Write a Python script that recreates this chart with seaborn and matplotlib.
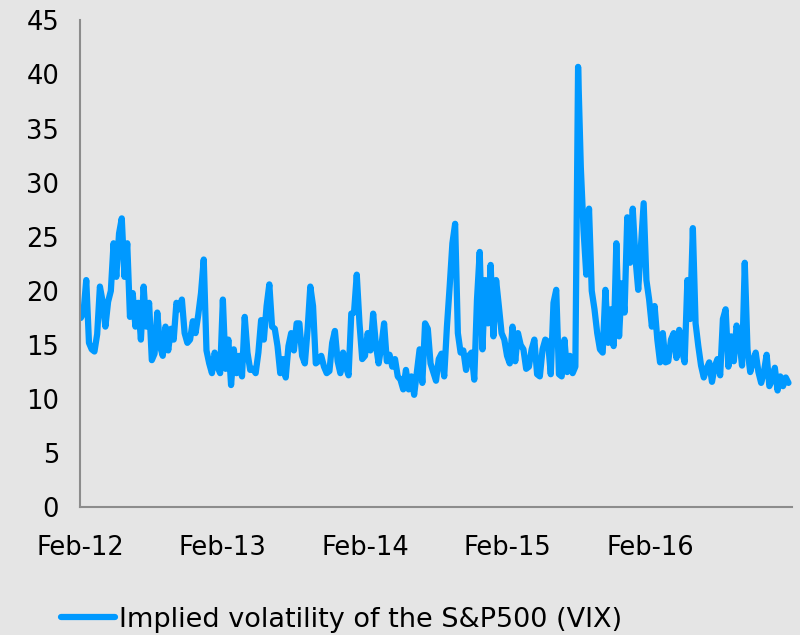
import pandas as pd
import numpy as np
import matplotlib
matplotlib.use("Agg")
import matplotlib.pyplot as plt
import matplotlib.dates as mdates
import seaborn as sns

# weekly VIX closes, one list per Feb-to-Feb year
vix_2012 = [17.5, 18.0, 21.0, 15.2, 14.6, 14.4, 16.0, 20.4, 19.0, 16.7, 19.0, 20.0, 24.4,
            21.3, 25.3, 26.7, 21.3, 24.4, 17.6, 19.8, 16.7, 18.9, 15.5, 20.4, 16.7, 18.9,
            13.6, 14.2, 18.0, 14.9, 14.0, 16.7, 14.5, 16.5, 15.5, 18.9, 18.3, 19.2, 16.1,
            15.2, 15.5, 17.2, 16.1, 17.8, 19.8, 22.9, 14.5, 13.3, 12.4, 14.3, 13.0, 12.4]
vix_2013 = [19.2, 12.8, 15.5, 11.3, 14.6, 12.4, 14.0, 12.1, 17.6, 14.3, 12.7, 12.8, 12.4,
            14.3, 17.3, 15.5, 18.6, 20.6, 16.7, 16.5, 14.9, 12.4, 13.7, 12.0, 14.9,
            16.1, 14.5, 17.0, 17.0, 14.0, 13.3, 16.4, 20.4, 18.6, 13.3, 13.5, 14.0, 13.0,
            12.4, 12.6, 15.2, 16.3, 13.5, 12.4, 14.3, 13.0, 12.2, 17.9, 18.0, 21.5, 17.0, 13.7]
vix_2014 = [14.0, 16.1, 14.5, 17.9, 15.0, 13.3, 14.9, 17.0, 13.5, 14.1, 13.0,
            13.7, 12.1, 11.8, 10.9, 12.7, 10.9, 12.1, 10.4, 12.5, 14.6, 11.5, 17.0, 16.5,
            13.3, 12.5, 11.7, 13.7, 14.2, 12.1, 16.7, 20.4, 24.4, 26.2, 16.1, 14.3, 14.5,
            12.7, 14.0, 14.3, 11.8, 19.2, 23.6, 14.6, 21.0, 17.0, 22.4, 15.8, 21.0,
            18.6, 16.1, 15.5]
vix_2015 = [14.0, 13.3, 16.7, 13.5, 16.1, 15.0, 14.6, 12.8, 13.0, 14.6, 15.5, 12.3, 12.1,
            14.6, 15.5, 15.3, 12.3, 18.9, 20.1, 12.3, 12.1, 15.5, 12.5, 14.0, 12.4, 13.0,
            40.7, 31.4, 25.6, 21.5, 27.6, 20.0, 18.3, 16.1, 14.6,
            14.3, 20.1, 15.2, 18.3, 14.9, 24.4, 15.8, 20.7, 18.0, 26.8, 22.6, 27.6, 23.0,
            20.1, 24.1, 28.1, 21.0]
vix_2016 = [19.2, 16.7, 18.6, 15.5, 13.4, 16.1, 13.4, 13.5, 15.5, 16.1, 13.8, 16.4, 14.5,
            13.4, 21.0, 17.4, 25.8,
            17.0, 14.9, 13.1, 12.0, 12.8, 13.4, 11.6, 13.0, 13.7, 12.2, 17.4, 18.3, 13.0,
            15.8, 13.5, 16.8, 15.5, 13.1, 22.6, 14.6, 12.5, 13.5, 14.3, 12.5, 11.5, 12.5,
            14.1, 11.2, 11.8, 12.9, 10.8, 12.1, 11.2, 12.0, 11.5]

vix = vix_2012 + vix_2013 + vix_2014 + vix_2015 + vix_2016
dates = pd.date_range("2012-02-03", periods=len(vix), freq="7D")
df = pd.DataFrame({"date": dates, "vix": vix})

bg = "#e5e5e5"
blue = "#0099ff"
grey = "#8c8c8c"

sns.set_style("white", {"axes.facecolor": bg, "figure.facecolor": bg})
plt.rcParams["font.family"] = ["DejaVu Sans"]
plt.rcParams["text.color"] = "black"

fig = plt.figure(figsize=(8, 6.35), dpi=100)
ax = fig.add_axes([0.1, 0.201, 0.89, 0.767])

sns.lineplot(data=df, x="date", y="vix", ax=ax, color=blue, linewidth=4.5,
             label="Implied volatility of the S&P500 (VIX)", legend=False)

ax.set_ylim(0, 45)
ax.set_yticks(range(0, 46, 5))
ax.set_xlim(pd.Timestamp("2012-02-01"), pd.Timestamp("2017-01-29"))
ax.xaxis.set_major_locator(mdates.YearLocator(month=2, day=1))
ax.xaxis.set_major_formatter(mdates.DateFormatter("%b-%y"))
ax.set_xlabel("")
ax.set_ylabel("")

sns.despine(ax=ax)
for s in ["left", "bottom"]:
    ax.spines[s].set_color(grey)
    ax.spines[s].set_linewidth(1.5)
ax.tick_params(axis="both", colors=grey, width=1.5, length=6, labelsize=18.5,
               labelcolor="black")
ax.tick_params(axis="x", pad=14)
ax.tick_params(axis="y", pad=9)

h, l = ax.get_legend_handles_labels()
fig.legend(h, l, loc="center left", bbox_to_anchor=(0.076, 0.024), frameon=False,
           fontsize=19.5, handlelength=2.0, handletextpad=0.15, borderpad=0,
           borderaxespad=0, labelcolor="black")

fig.savefig("out.png", dpi=100, facecolor=bg)
